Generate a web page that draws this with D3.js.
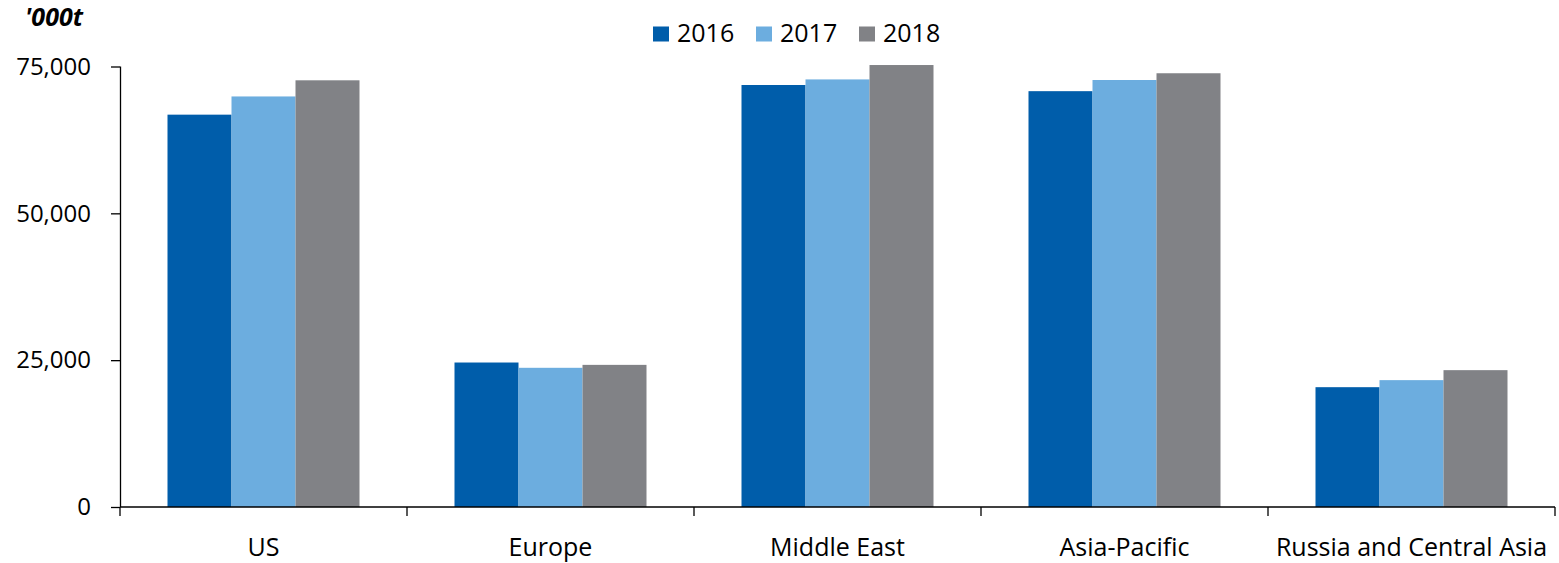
<!DOCTYPE html>
<html>
<head>
<meta charset="utf-8">
<script src="https://cdn.jsdelivr.net/npm/d3@7"></script>
<style>
  html, body { margin: 0; padding: 0; background: #fff; }
  svg { display: block; font-family: "Open Sans", "Noto Sans", sans-serif; }
</style>
</head>
<body>
<svg id="chart" width="1559" height="563"></svg>
<script>
// Production by region, thousand tonnes
const categories = ["US", "Europe", "Middle East", "Asia-Pacific", "Russia and Central Asia"];
const years = ["2016", "2017", "2018"];
const values2016 = [66800, 24600, 71850, 70800, 20400];
const values2017 = [69900, 23700, 72800, 72700, 21600];
const values2018 = [72650, 24200, 75250, 73850, 23300];
const yTicks = [0, 25000, 50000, 75000];
const colors = ["#005DAA", "#6CADDF", "#818286"];

const series = [values2016, values2017, values2018];

const svg = d3.select("#chart");
const plotLeft = 120, plotRight = 1555;

const x0 = d3.scaleBand().domain(categories).range([plotLeft, plotRight]).padding(0);
const x1 = d3.scaleBand().domain(years)
  .range([x0.bandwidth() * 0.1655, x0.bandwidth() * (1 - 0.1655)]).padding(0);
const y = d3.scaleLinear().domain([0, 75000]).range([507, 66.5]);

// Bars
categories.forEach((cat, i) => {
  const g = svg.append("g").attr("transform", `translate(${x0(cat)},0)`);
  g.selectAll("rect")
    .data(years.map((yr, k) => ({ yr, v: series[k][i], k })))
    .join("rect")
    .attr("x", d => x1(d.yr))
    .attr("y", d => y(d.v))
    .attr("width", x1.bandwidth())
    .attr("height", d => y(0) - y(d.v))
    .attr("fill", d => colors[d.k]);
});

// Y axis
const yAxis = svg.append("g")
  .attr("transform", `translate(${plotLeft},0)`)
  .call(d3.axisLeft(y).tickValues(yTicks).tickSize(9).tickPadding(20)
    .tickFormat(d3.format(",")));
yAxis.select(".domain").attr("stroke", "#000").attr("stroke-width", 1.3)
  .attr("d", `M0.5,${y(75000)}V${y(0)}`);
yAxis.selectAll(".tick line").attr("stroke", "#000").attr("stroke-width", 1.3);
yAxis.selectAll(".tick text").attr("font-size", 24).attr("fill", "#000")
  .attr("font-family", "'Open Sans', sans-serif");

// X axis with ticks on band boundaries
const xAxisG = svg.append("g").attr("transform", `translate(0,${y(0)})`);
xAxisG.append("line")
  .attr("x1", plotLeft).attr("x2", plotRight)
  .attr("stroke", "#000").attr("stroke-width", 1.3);
const boundaries = categories.map(c => x0(c)).concat([x0(categories[categories.length - 1]) + x0.bandwidth()]);
xAxisG.selectAll("line.tk").data(boundaries).join("line")
  .attr("class", "tk")
  .attr("x1", d => d).attr("x2", d => d)
  .attr("y1", 0).attr("y2", 9)
  .attr("stroke", "#000").attr("stroke-width", 1.3);
xAxisG.selectAll("text").data(categories).join("text")
  .attr("x", d => x0(d) + x0.bandwidth() / 2)
  .attr("y", 49)
  .attr("text-anchor", "middle")
  .attr("font-size", 25)
  .attr("fill", "#000")
  .text(d => d);

// Unit label
svg.append("text")
  .attr("x", 25).attr("y", 26)
  .attr("font-size", 25).attr("font-weight", "bold").attr("font-style", "italic")
  .attr("fill", "#000")
  .text("'000t");

// Legend
const legend = svg.append("g").attr("transform", "translate(653,34)");
const legendX = [0, 103, 206];
years.forEach((yr, k) => {
  const item = legend.append("g").attr("transform", `translate(${legendX[k]},0)`);
  item.append("rect").attr("x", 0).attr("y", -7.5).attr("width", 16).attr("height", 15)
    .attr("fill", colors[k]);
  item.append("text").attr("x", 24).attr("y", 8)
    .attr("font-size", 25).attr("fill", "#000").text(yr);
});
</script>
</body>
</html>
